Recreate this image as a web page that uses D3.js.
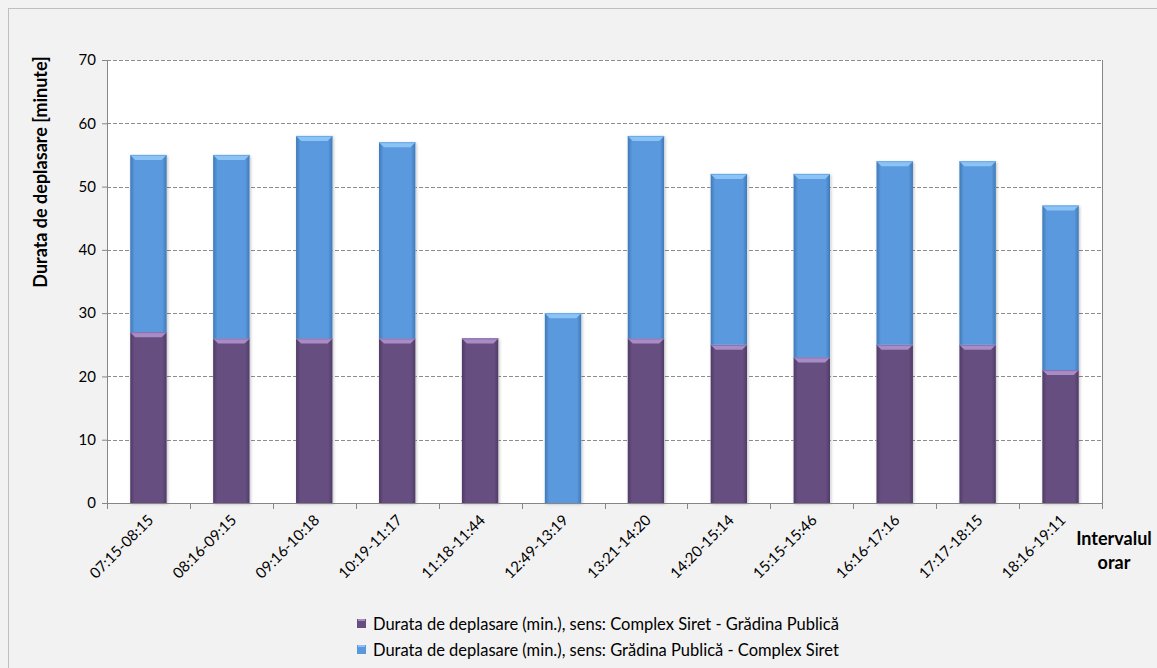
<!DOCTYPE html>
<html><head><meta charset="utf-8">
<script src="https://cdn.jsdelivr.net/npm/d3@7"></script>
<style>body{margin:0;background:#f2f2f2;}svg{display:block;font-family:Lato,"Open Sans",sans-serif;}</style>
</head><body>
<svg id="c" width="1157" height="668"></svg>
<script>
const categories = ["07:15-08:15","08:16-09:15","09:16-10:18","10:19-11:17","11:18-11:44","12:49-13:19","13:21-14:20","14:20-15:14","15:15-15:46","16:16-17:16","17:17-18:15","18:16-19:11"];
const purpleValues = [27,26,26,26,26,0,26,25,23,25,25,21];
const blueValues = [28,29,32,31,0,30,32,27,29,29,29,26];
const yTicks = [0,10,20,30,40,50,60,70];
const seriesNames = ["Durata de deplasare (min.), sens: Complex Siret - Grădina Publică","Durata de deplasare (min.), sens: Grădina Publică - Complex Siret"];

const svg = d3.select("#c");
const L=107, R=1102, T=60, B=503;
svg.append("rect").attr("x",8.5).attr("y",8.5).attr("width",1200).attr("height",700).attr("fill","#f2f2f2").attr("stroke","#bfbfbf");
svg.append("rect").attr("x",L).attr("y",T).attr("width",R-L).attr("height",B-T).attr("fill","#fff");

const x = d3.scaleBand().domain(categories).range([L,R]).paddingInner(0.56).paddingOuter(0.28);
const y = d3.scaleLinear().domain([0,70]).range([B,T]);

const defs = svg.append("defs");
function grad(id, edge, mid){
  const g = defs.append("linearGradient").attr("id",id).attr("x1","0").attr("x2","1").attr("y1","0").attr("y2","0");
  g.append("stop").attr("offset","0").attr("stop-color",edge);
  g.append("stop").attr("offset","0.12").attr("stop-color",mid);
  g.append("stop").attr("offset","0.88").attr("stop-color",mid);
  g.append("stop").attr("offset","1").attr("stop-color",edge);
}
grad("gp","#4f3b66","#664f80");
grad("gb","#3f78b8","#5a99dd");
const f = defs.append("filter").attr("id","sh").attr("x","-20%").attr("y","-5%").attr("width","140%").attr("height","110%");
f.append("feDropShadow").attr("dx",1).attr("dy",1).attr("stdDeviation",1.5).attr("flood-color","#000").attr("flood-opacity",0.25);

// grid
svg.append("g").selectAll("line").data(yTicks.filter(d=>d>0)).join("line")
  .attr("x1",L).attr("x2",R).attr("y1",d=>Math.round(y(d))+0.5).attr("y2",d=>Math.round(y(d))+0.5)
  .attr("stroke","#8c8c8c").attr("stroke-dasharray","4,2").attr("stroke-width",1);

// bars
const stacks = categories.map((c,i)=>({c, segs:[
  {y0:0,y1:purpleValues[i],fill:"url(#gp)",cap:"#a98bc6",cap2:"#8a6eaa"},
  {y0:purpleValues[i],y1:purpleValues[i]+blueValues[i],fill:"url(#gb)",cap:"#8cc3f5",cap2:"#6aa8ea"}
]}));
const bg = svg.append("g");
stacks.forEach(s=>{
  const bx=x(s.c), bw=x.bandwidth();
  const tot = s.segs[1].y1;
  bg.append("rect").attr("x",bx).attr("y",y(tot)).attr("width",bw).attr("height",y(0)-y(tot)).attr("fill","#fff").attr("filter","url(#sh)");
  s.segs.forEach(seg=>{
    if(seg.y1-seg.y0<=0) return;
    const y0=y(seg.y0), y1=y(seg.y1);
    bg.append("rect").attr("x",bx).attr("y",y1).attr("width",bw).attr("height",y0-y1).attr("fill",seg.fill);
    const h=5;
    bg.append("path").attr("d",`M${bx},${y1}L${bx+bw},${y1}L${bx+bw-5},${y1+h}L${bx+5},${y1+h}Z`).attr("fill",seg.cap);
    bg.append("line").attr("x1",bx).attr("x2",bx+bw).attr("y1",y1+0.5).attr("y2",y1+0.5).attr("stroke",seg.cap2).attr("stroke-width",1);
  });
});

// axes
const ya = svg.append("g").attr("transform",`translate(${L},0)`).call(d3.axisLeft(y).tickValues(yTicks).tickSize(5).tickPadding(6));
ya.select(".domain").attr("stroke","#868686");
ya.selectAll(".tick line").attr("stroke","#868686");
ya.selectAll("text").attr("font-size",15).attr("fill","#000").attr("font-family","Lato,'Open Sans',sans-serif");

svg.append("line").attr("x1",R+0.5).attr("x2",R+0.5).attr("y1",T).attr("y2",B).attr("stroke","#868686");
const boundaries = [L].concat(categories.map(c=>x(c)+x.bandwidth()+x.step()*x.paddingInner()/2));
svg.append("line").attr("x1",L).attr("x2",R+1).attr("y1",B+0.5).attr("y2",B+0.5).attr("stroke","#868686");
svg.append("g").selectAll("line").data(boundaries).join("line")
  .attr("x1",d=>Math.round(d)+0.5).attr("x2",d=>Math.round(d)+0.5).attr("y1",B).attr("y2",B+6).attr("stroke","#868686");
svg.append("g").selectAll("text").data(categories).join("text")
  .attr("transform",d=>`translate(${x(d)+x.bandwidth()/2+6},${B+18}) rotate(-45)`)
  .attr("text-anchor","end").attr("font-size",15).attr("fill","#000").text(d=>d);

// titles
svg.append("text").attr("transform","translate(47,172) rotate(-90)").attr("text-anchor","middle")
  .attr("font-size",18).attr("font-weight","bold").text("Durata de deplasare [minute]");
const xt = svg.append("text").attr("text-anchor","middle").attr("font-size",18).attr("font-weight","bold");
xt.append("tspan").attr("x",1114).attr("y",545).text("Intervalul");
xt.append("tspan").attr("x",1114).attr("y",569).text("orar");

// legend
const lc = [["#664f80","#a98bc6"],["#5a99dd","#8cc3f5"]];
const lg = svg.append("g");
seriesNames.forEach((n,i)=>{
  const yy = 630 + i*26;
  lg.append("rect").attr("x",357).attr("y",yy-11).attr("width",9).attr("height",9).attr("fill",lc[i][0]);
  lg.append("rect").attr("x",358).attr("y",yy-11).attr("width",7).attr("height",2).attr("fill",lc[i][1]);
  lg.append("text").attr("x",373).attr("y",yy).attr("font-size",16.5).text(n);
});
</script>
</body></html>
